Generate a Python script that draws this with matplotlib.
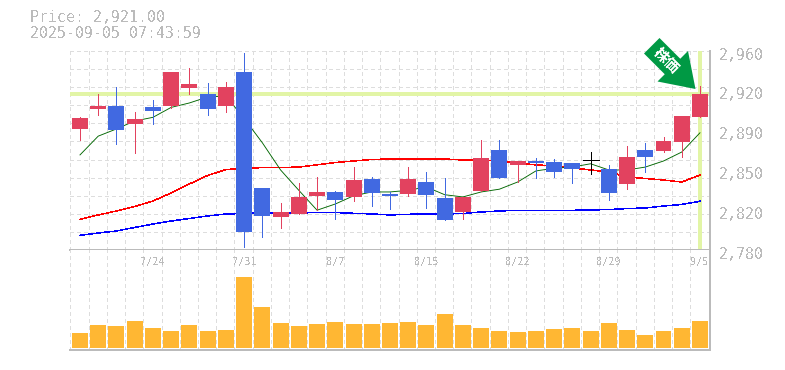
import numpy as np
import matplotlib
matplotlib.use("Agg")
import matplotlib.pyplot as plt
from matplotlib.patches import Polygon
from matplotlib.transforms import ScaledTranslation

plt.rcParams['font.family'] = ['DejaVu Sans Mono']
plt.rcParams['text.antialiased'] = False

#Data for plots
opens = [2889.5, 2907.5, 2910, 2894, 2909, 2910, 2926.5, 2921, 2910, 2941, 2836, 2810, 2813, 2829, 2832.5, 2828, 2844, 2830.7,
         2830.7, 2841.5, 2827, 2814, 2833, 2870.5, 2857, 2860.5, 2859.6, 2858.7, 2861, 2853, 2840, 2870.5, 2869.5, 2878, 2900]
closes = [2899, 2910.5, 2888.5, 2898.5, 2906, 2941, 2930, 2907.5, 2927, 2796, 2811, 2814, 2828, 2832.5, 2825, 2843, 2831.6, 2829,
          2844, 2829.8, 2807, 2828, 2863, 2845, 2860.5, 2858.7, 2850.6, 2853, 2861, 2831.6, 2864, 2864, 2878.6, 2901, 2921]
highs = [2900, 2921, 2927, 2905, 2916, 2941, 2945, 2931, 2932, 2958, 2836, 2822.5, 2840.6, 2846, 2833, 2855, 2846, 2832.5,
         2855, 2850.6, 2845, 2828, 2879.5, 2879.5, 2860.5, 2863, 2862, 2858.7, 2868.6, 2857, 2874, 2877, 2882, 2901, 2928]
lows = [2879.5, 2902, 2876, 2868, 2894, 2908, 2921, 2902, 2905, 2783, 2792, 2800, 2813, 2816, 2808, 2824, 2820, 2817,
        2829, 2818, 2807, 2808, 2833, 2845, 2841.5, 2845, 2846, 2840.6, 2849, 2825, 2835, 2850.6, 2868.6, 2864, 2900]

ma_green = [2866, 2883, 2889.5, 2896.7, 2900, 2909, 2913, 2918.4, 2919.3, 2899, 2877, 2852.4, 2834, 2816, 2821.6, 2829, 2832.5, 2832.5,
            2834, 2837, 2830, 2828, 2832.5, 2835, 2841.5, 2851.5, 2854, 2855, 2858, 2852.4, 2852.4, 2855, 2860.5, 2868.6, 2886]
ma_red = [2807.8, 2811.7, 2815.3, 2819.4, 2824.3, 2831.6, 2839.7, 2847.4, 2852.8, 2853.7, 2854.6, 2854.6, 2855, 2857, 2859.1, 2860.5, 2861.9, 2862.3,
          2862.3, 2862.3, 2862.3, 2861.4, 2861.4, 2860.5, 2858.7, 2857, 2856, 2854.2, 2852.4, 2850.6, 2846, 2844.7, 2843.3, 2841.5, 2847.8]
ma_blue = [2793.3, 2795.4, 2797.2, 2800.4, 2803.5, 2806.2, 2808.5, 2810.8, 2812.6, 2813, 2813.5, 2813.5, 2813.5, 2813.9, 2813.9, 2813.2, 2812.6, 2811.7,
           2812.3, 2812.6, 2812.6, 2813, 2814.4, 2815.3, 2815.9, 2815.9, 2815.9, 2815.9, 2816.2, 2816.6, 2817.5, 2818, 2819.8, 2821.2, 2824.1]
volume = [15, 23, 22, 27, 20, 17, 23, 17, 18, 71, 41, 25, 22, 24, 26, 24, 24, 25,
          26, 23, 34, 23, 20, 17, 16, 17, 19, 20, 17, 25, 18, 13, 17, 20, 27]

date_idx = [4, 9, 14, 19, 24, 29, 34]
date_labels = ['7/24', '7/31', '8/7', '8/15', '8/22', '8/29', '9/5']
price_ticks = [2960, 2924, 2888, 2852, 2816, 2780]
price_labels = ['2,960', '2,920', '2,890', '2,850', '2,820', '2,780']
last_price = 2921

RED = '#E2425F'
BLUE = '#4169E1'
GRAY = '#BBBBBB'
GRID = '#DDDDDD'
HILITE = '#E2F5A6'
W, H = 785, 370
x = np.arange(len(closes))
xlim = (-0.548, 34.55)
grid_x = np.arange(36) - 0.53
px = 0.72  # one pixel in points

fig = plt.figure(figsize=(7.85, 3.7), dpi=100)
ax = fig.add_axes([70 / W, (H - 250) / H, 640 / W, 199 / H])
vol = fig.add_axes([70 / W, (H - 350) / H, 640 / W, 100 / H])

#Price panel
ax.set_xlim(xlim)
ax.set_ylim(2780, 2960)
for gx in grid_x:
    ax.axvline(gx, color=GRID, lw=px, ls=(0, (3, 3)), zorder=1, antialiased=False)
for gy in np.linspace(2780, 2960, 12)[1:]:
    ax.axhline(gy, color=GRID, lw=px, ls=(0, (3, 3)), zorder=1, antialiased=False)

ax.axhline(last_price, color=HILITE, lw=4 * px, zorder=2)
ax.plot([x[-1], x[-1]], [2781, 2960], color=HILITE, lw=4 * px, zorder=2, solid_capstyle='butt')

# thin widths, aliased lines come out fatter than asked
ax.plot(x, ma_blue, color='#0000FF', lw=0.5 * px, zorder=3, antialiased=False)
ax.plot(x, ma_red, color='#FF0000', lw=0.5 * px, zorder=3, antialiased=False)
ax.plot(x, ma_green, color='#006600', lw=0.9 * px, zorder=3)

for i in x:
    o, c = opens[i], closes[i]
    if c > o:
        col = RED
    elif c < o:
        col = BLUE
    else:
        col = 'black'
    ax.vlines(i, lows[i], highs[i], color=col, lw=px, zorder=4, antialiased=False)
    if c == o:
        ax.hlines(o, i - 0.44, i + 0.44, color=col, lw=px, zorder=4, antialiased=False)
    else:
        ax.bar(i, abs(c - o), bottom=min(o, c), width=0.877, color=col, zorder=5, linewidth=0, antialiased=False)

ax.set_xticks([])
ax.yaxis.tick_right()
ax.set_yticks(price_ticks, price_labels)
ax.tick_params(axis='y', length=0, pad=6.5, labelsize=10.7, labelcolor=GRAY)
shift = ScaledTranslation(0, -2.6 / 100, fig.dpi_scale_trans)
for lab in ax.get_yticklabels():
    lab.set_transform(lab.get_transform() + shift)

#Volume panel
vol.set_xlim(xlim)
vol.set_ylim(-2, 98)
for gx in grid_x:
    vol.axvline(gx, color=GRID, lw=px, ls=(0, (3, 3)), zorder=1, antialiased=False)
vol.bar(x, volume, width=0.877, color='#FFB733', zorder=3, linewidth=0, antialiased=False)
for i, label in zip(date_idx, date_labels):
    vol.text(i, 86, label, color=GRAY, fontsize=7.4, ha='center', va='center', zorder=4)
vol.set_xticks([])
vol.set_yticks([])

for a in (ax, vol):
    for side in ('top', 'left'):
        a.spines[side].set_visible(False)
    for side in ('bottom', 'right'):
        a.spines[side].set_color(GRAY)
        a.spines[side].set_linewidth(2 * px)

#Header and arrow are drawn in pixel coords
over = fig.add_axes([0, 0, 1, 1], zorder=10)
over.set_xlim(0, W)
over.set_ylim(H, 0)
over.axis('off')
over.text(30, 18, 'Price: 2,921.00', color=GRAY, fontsize=10.7, va='center')
over.text(30, 33, '2025-09-05 07:43:59', color=GRAY, fontsize=10.7, va='center')

arrow = [(659.5, 38), (644, 53.5), (664.75, 74.25), (657.5, 81.5), (695.5, 89), (688, 51), (680.25, 58.75)]
over.add_patch(Polygon(arrow, closed=True, color='#009944', linewidth=0))
over.text(666.5, 60, '株価', color='white', fontsize=10.5, rotation=-45, rotation_mode='anchor',
          ha='center', va='center', fontweight='bold', family=['Noto Sans CJK JP', 'DejaVu Sans'])

plt.savefig('out.png', dpi=100)
